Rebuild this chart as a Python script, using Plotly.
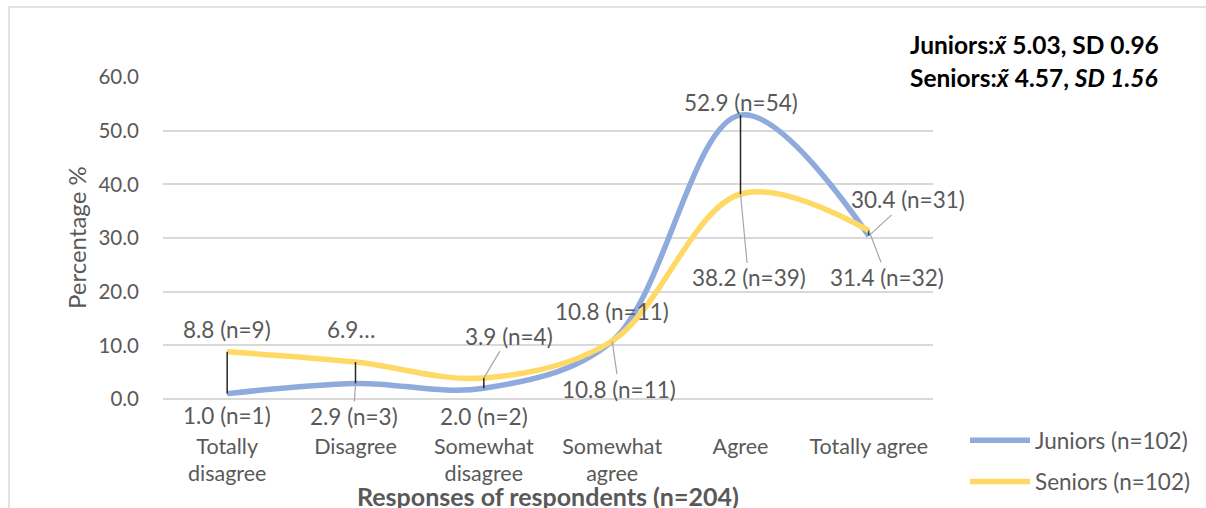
import plotly.graph_objects as go

categories = ["Totally disagree", "Disagree", "Somewhat disagree", "Somewhat agree", "Agree", "Totally agree"]
tick_labels = ["Totally<br>disagree", "Disagree", "Somewhat<br>disagree", "Somewhat<br>agree", "Agree", "Totally agree"]
juniors = [1.0, 2.9, 2.0, 10.8, 52.9, 30.4]
seniors = [8.8, 6.9, 3.9, 10.8, 38.2, 31.4]
juniors_labels = ["1.0 (n=1)", "2.9 (n=3)", "2.0 (n=2)", "10.8 (n=11)", "52.9 (n=54)", "30.4 (n=31)"]
seniors_labels = ["8.8 (n=9)", "6.9…", "3.9 (n=4)", "10.8 (n=11)", "38.2 (n=39)", "31.4 (n=32)"]
y_ticks = [0, 10, 20, 30, 40, 50, 60]

# label placement (pixel offsets from point; arrow = leader line)
j_pos = [(0, 22, False), (-2, 33, True), (0, 28, False), (7, 48, True), (0, -13, False), (39, -36, True)]
s_pos = [(0, -22, False), (-5, -32, False), (25, -42, True), (0, -30, False), (8, 84, True), (18, 47, True)]

FONT = "Lato"
GREY = "#595959"
BLUE = "#8FAADC"
YELLOW = "#FFD966"
LS = 22.5

W, H = 1206, 508
L, R, T, B = 163, 933, 77, 399
pw, ph = R - L, B - T
def px(xp): return (xp - L) / pw
def py(yp): return (B - yp) / ph

fig = go.Figure()
fig.add_trace(go.Scatter(x=categories, y=juniors, mode="lines", name="Juniors (n=102)",
                         line=dict(color=BLUE, width=5.5, shape="spline", smoothing=1.0),
                         legendgroup="j"))
fig.add_trace(go.Scatter(x=categories, y=seniors, mode="lines", name="Seniors (n=102)",
                         line=dict(color=YELLOW, width=5.5, shape="spline", smoothing=1.0),
                         legendgroup="s"))

# high-low lines
hx, hy = [], []
for c, a, b in zip(categories, juniors, seniors):
    hx += [c, c, None]
    hy += [min(a, b), max(a, b), None]
fig.add_trace(go.Scatter(x=hx, y=hy, mode="lines", line=dict(color="#262626", width=1.5),
                         showlegend=False, hoverinfo="skip"))

annotations = []
for labels, vals, pos in ((juniors_labels, juniors, j_pos), (seniors_labels, seniors, s_pos)):
    for c, v, t, (dx, dy, arrow) in zip(categories, vals, labels, pos):
        if arrow:
            annotations.append(dict(x=c, y=v, xref="x", yref="y", text=t, showarrow=True,
                                    ax=dx, ay=dy, arrowhead=0, arrowwidth=1.2, arrowcolor="#A6A6A6",
                                    standoff=0, font=dict(family=FONT, size=LS, color=GREY)))
        else:
            annotations.append(dict(x=c, y=v, xref="x", yref="y", text=t, showarrow=False,
                                    xshift=dx, yshift=-dy, font=dict(family=FONT, size=LS, color=GREY)))

annotations.append(dict(x=px(908), y=py(44), xref="paper", yref="paper", xanchor="left", yanchor="middle",
                        text="<b>Juniors:<i>x̃</i> 5.03, SD 0.96</b>", showarrow=False, bgcolor="white",
                        font=dict(family=FONT, size=24.5, color="black")))
annotations.append(dict(x=px(908), y=py(77), xref="paper", yref="paper", xanchor="left", yanchor="middle",
                        text="<b>Seniors:<i>x̃</i> 4.57, <i>SD 1.56</i></b>", showarrow=False, bgcolor="white",
                        font=dict(family=FONT, size=24.5, color="black")))
annotations.append(dict(x=px(76), y=py(238), xref="paper", yref="paper", xanchor="center", yanchor="middle",
                        text="Percentage %", textangle=-90, showarrow=False,
                        font=dict(family=FONT, size=24, color=GREY)))
annotations.append(dict(x=0.5, y=py(496), xref="paper", yref="paper", yanchor="middle",
                        text="<b>Responses of respondents (n=204)</b>", showarrow=False,
                        font=dict(family=FONT, size=25, color=GREY)))

fig.update_layout(
    width=W, height=H,
    margin=dict(l=L, r=W - R, t=T, b=H - B, autoexpand=False),
    paper_bgcolor="white", plot_bgcolor="white",
    font=dict(family=FONT, size=LS, color=GREY),
    showlegend=True,
    legend=dict(x=px(965), y=py(419), xanchor="left", yanchor="top", tracegroupgap=9,
                itemwidth=60,
                font=dict(family=FONT, size=LS, color=GREY), bgcolor="rgba(0,0,0,0)"),
    annotations=annotations,
    shapes=[dict(type="rect", xref="paper", yref="paper", x0=px(9), x1=px(1220), y0=py(530), y1=py(7),
                 line=dict(color="#D9D9D9", width=1.5), fillcolor="rgba(0,0,0,0)", layer="below")],
)
fig.update_xaxes(type="category", categoryorder="array", categoryarray=categories,
                 tickvals=categories, ticktext=tick_labels, range=[-0.5, 5.5], automargin=False,
                 showgrid=False, showline=False, zeroline=False, ticks="",
                 ticklabelstandoff=32, tickfont=dict(family=FONT, size=21.5, color=GREY))
fig.update_yaxes(range=[0, 60], tickvals=y_ticks, ticktext=[f"{v:.1f}" for v in y_ticks], automargin=False,
                 showgrid=True, gridcolor="#D9D9D9", gridwidth=1.5, zeroline=True,
                 zerolinecolor="#D9D9D9", zerolinewidth=1.5, showline=False, ticks="",
                 ticklabelstandoff=23, tickfont=dict(family=FONT, size=20.5, color=GREY))

fig.write_html("out.html")
